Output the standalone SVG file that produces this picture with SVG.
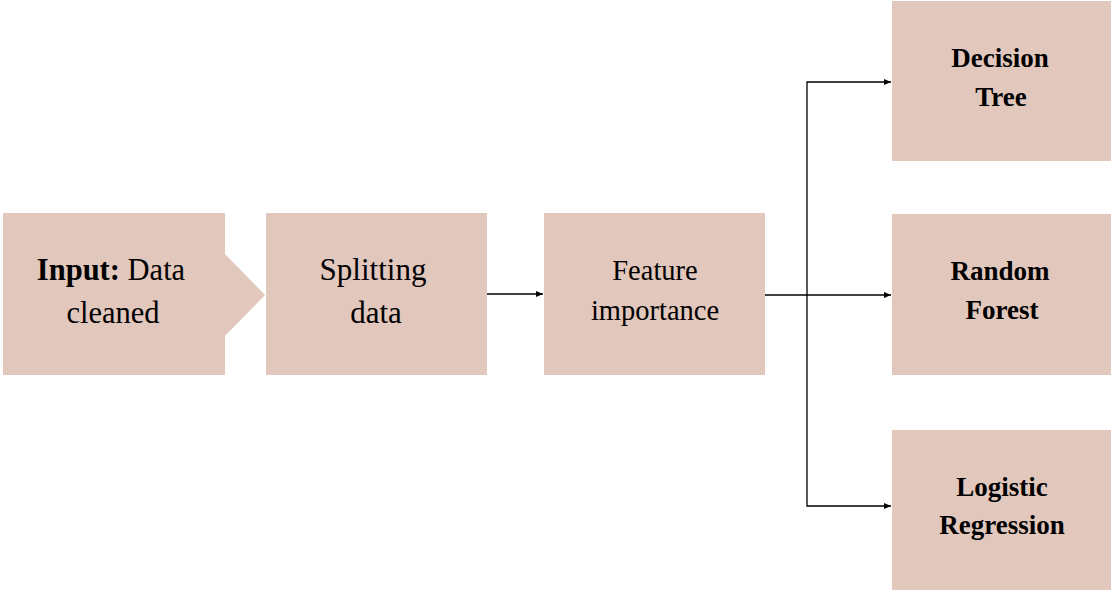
<svg xmlns="http://www.w3.org/2000/svg" width="1113" height="591" viewBox="0 0 1113 591">
<style>
.box{fill:#e2c7bc}
.t{font-family:"Liberation Serif","Times New Roman",serif;fill:#000;text-anchor:middle}
.b{font-weight:bold}
.c{stroke:#000;stroke-width:1.3;fill:none}
</style>
<defs>
<marker id="ah" markerWidth="8" markerHeight="8" refX="7" refY="4" orient="auto" markerUnits="userSpaceOnUse">
<path d="M0,1 L7,4 L0,7 Z" fill="#000"/>
</marker>
</defs>
<rect width="1113" height="591" fill="#fff"/>
<g id="connectors">
<line class="c" x1="487" y1="294" x2="543" y2="294" marker-end="url(#ah)"/>
<line class="c" x1="765" y1="295" x2="891" y2="295" marker-end="url(#ah)"/>
<polyline class="c" points="807,295 807,82 891,82" marker-end="url(#ah)"/>
<polyline class="c" points="807,295 807,506 891,506" marker-end="url(#ah)"/>
</g>
<g id="input">
<path class="box" d="M3,213 H225 V254 L265,295 L225,336 V375 H3 Z"/>
<text class="t" x="111" y="280" font-size="30.5"><tspan class="b">Input:</tspan> Data</text>
<text class="t" x="113" y="323" font-size="30.5">cleaned</text>
</g>
<g id="splitting">
<rect class="box" x="266" y="213" width="221" height="162"/>
<text class="t" x="373" y="280" font-size="31">Splitting</text>
<text class="t" x="376" y="323" font-size="31">data</text>
</g>
<g id="feature">
<rect class="box" x="544" y="213" width="221" height="162"/>
<text class="t" x="655" y="280" font-size="28.5">Feature</text>
<text class="t" x="655" y="320" font-size="28.5">importance</text>
</g>
<g id="decision">
<rect class="box" x="892" y="1" width="219" height="160"/>
<text class="t b" x="1000" y="67" font-size="27">Decision</text>
<text class="t b" x="1001" y="106" font-size="27">Tree</text>
</g>
<g id="random">
<rect class="box" x="892" y="214" width="219" height="161"/>
<text class="t b" x="1000" y="280" font-size="27">Random</text>
<text class="t b" x="1002" y="319" font-size="27">Forest</text>
</g>
<g id="logistic">
<rect class="box" x="892" y="430" width="219" height="160"/>
<text class="t b" x="1002" y="496" font-size="27">Logistic</text>
<text class="t b" x="1002" y="534" font-size="27">Regression</text>
</g>
</svg>
